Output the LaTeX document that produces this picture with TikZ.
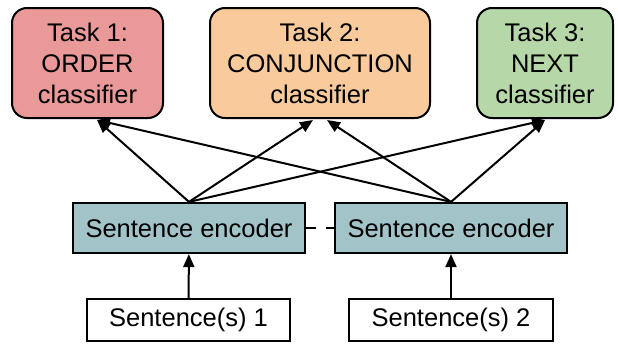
\documentclass[tikz,border=0pt]{standalone}
\usepackage{fontspec}
\setmainfont{Liberation Sans}
\usetikzlibrary{arrows.meta,calc}
\definecolor{taskred}{HTML}{EA9999}
\definecolor{taskorange}{HTML}{F9CB9C}
\definecolor{taskgreen}{HTML}{B6D7A8}
\definecolor{encfill}{HTML}{A2C4C9}
\begin{document}
\begin{tikzpicture}[x=1pt,y=-1pt,
  lbl/.style={font=\fontsize{25.5}{31}\selectfont, align=center, inner sep=0pt},
  taskbox/.style={lbl, draw=black, line width=2pt, rounded corners=15pt,
                  minimum height=110pt},
  encbox/.style={lbl, draw=black, line width=2.2pt, fill=encfill,
                 minimum width=232pt, minimum height=50pt},
  inbox/.style={lbl, draw=black, line width=2pt, fill=white,
                minimum height=42pt},
  link/.style={line width=2pt, -{Triangle[length=13pt,width=11pt]}}]
  \useasboundingbox (0,0) rectangle (618,343);

  % task classifiers
  \node[taskbox, fill=taskred, minimum width=151pt] (t1) at (87.5,63)
    {Task 1:\\ORDER\\classifier};
  \node[taskbox, fill=taskorange, minimum width=220pt] (t2) at (320,63)
    {Task 2:\\CONJUNCTION\\classifier};
  \node[taskbox, fill=taskgreen, minimum width=136pt] (t3) at (545,63)
    {Task 3:\\NEXT\\classifier};

  % shared sentence encoders
  \node[encbox] (e1) at (189,228) {Sentence encoder};
  \node[encbox] (e2) at (451,228) {Sentence encoder};

  % inputs
  \node[inbox, minimum width=203pt] (s1) at (188.5,320) {Sentence(s) 1};
  \node[inbox, minimum width=204pt] (s2) at (451,320) {Sentence(s) 2};

  % encoder weights are shared
  \draw[line width=2pt, dash pattern=on 10pt off 10pt] (e1.east) -- (e2.west);

  % inputs into encoders
  \draw[link] (s1) -- (e1);
  \draw[link] (s2) -- (e2);

  % encoders into classifiers
  \draw[link] (e1.north) -- ($(t1.south)+(9.5,1)$);
  \draw[link] (e1.north) -- ($(t2.south)+(-7,1)$);
  \draw[link] (e1.north) -- ($(t3.south)+(0,1)$);
  \draw[link] (e2.north) -- ($(t1.south)+(9.5,1)$);
  \draw[link] (e2.north) -- ($(t2.south)+(7,1)$);
  \draw[link] (e2.north) -- ($(t3.south)+(0,1)$);
\end{tikzpicture}
\end{document}
